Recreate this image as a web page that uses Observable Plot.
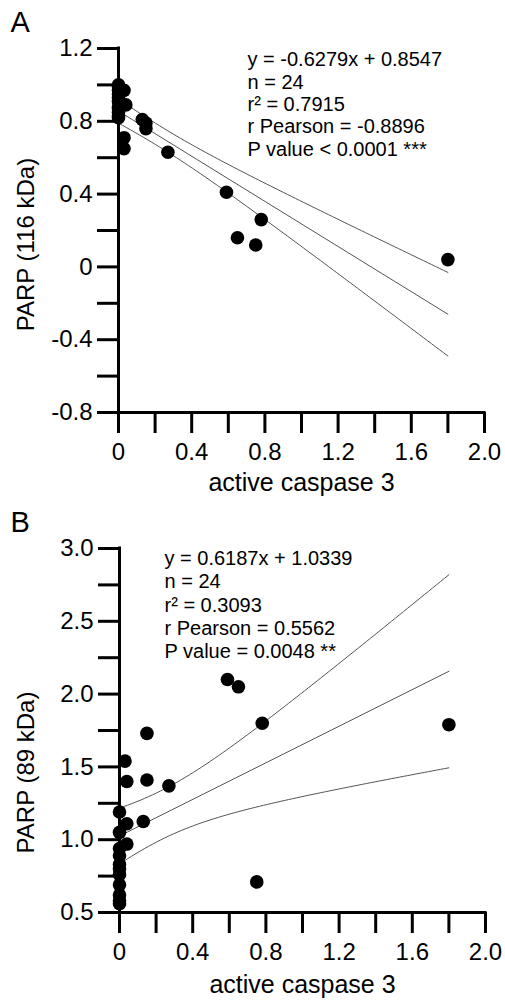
<!DOCTYPE html>
<html><head><meta charset="utf-8">
<script src="https://cdn.jsdelivr.net/npm/d3@7"></script>
<script src="https://cdn.jsdelivr.net/npm/@observablehq/plot@0.6"></script>
<style>body{margin:0;background:#fff} #chart svg{display:block}</style>
</head><body><div id="chart"></div>
<script>
// Panel A: PARP (116 kDa) vs active caspase 3
const caspaseA = [0,0,0,0,0,0,0,0,0,0,0, 0.03,0.04,0.03,0.03, 0.13,0.15,0.15, 0.27, 0.59,0.65,0.75,0.78,1.80];
const parp116  = [1.00,0.99,0.97,0.95,0.93,0.91,0.88,0.87,0.85,0.83,0.82, 0.97,0.89,0.71,0.65, 0.81,0.79,0.76, 0.63, 0.41,0.16,0.12,0.26,0.04];
// Panel B: PARP (89 kDa) vs active caspase 3
const caspaseB = [0,0,0,0,0,0,0,0,0,0,0, 0.03,0.04,0.04,0.04, 0.13,0.15,0.15, 0.27, 0.59,0.65,0.75,0.78,1.80];
const parp89   = [1.19,1.05,0.94,0.89,0.83,0.80,0.76,0.69,0.62,0.58,0.56, 1.54,1.40,1.11,0.97, 1.125,1.73,1.41, 1.37, 2.10,2.05,0.71,1.80,1.79];

const xDomain = [0, 2];
const xTicks = [0,0.2,0.4,0.6,0.8,1.0,1.2,1.4,1.6,1.8,2.0];
const xTickLabels = ["0","","0.4","","0.8","","1.2","","1.6","","2.0"];
const yDomainA = [-0.8, 1.2];
const yTicksA = [-0.8,-0.6,-0.4,-0.2,0,0.2,0.4,0.6,0.8,1.0,1.2];
const yTickLabelsA = ["-0.8","","-0.4","","0","","0.4","","0.8","","1.2"];
const yDomainB = [0.5, 3.0];
const yTicksB = [0.5,0.75,1.0,1.25,1.5,1.75,2.0,2.25,2.5,2.75,3.0];
const yTickLabelsB = ["0.5","","1.0","","1.5","","2.0","","2.5","","3.0"];

const statsA = ["y = -0.6279x + 0.8547","n = 24","r\u00B2 = 0.7915","r Pearson = -0.8896","P value < 0.0001 ***"];
const statsB = ["y = 0.6187x + 1.0339","n = 24","r\u00B2 = 0.3093","r Pearson = 0.5562","P value = 0.0048 **"];
const xTitle = "active caspase 3";
const yTitleA = "PARP (116 kDa)";
const yTitleB = "PARP (89 kDa)";

const T_CRIT = 2.073873; // t(0.975, df = 22)

function ciBands(xs, ys) {
  const n = xs.length, mx = d3.mean(xs), my = d3.mean(ys);
  let sxx = 0, sxy = 0;
  for (let i = 0; i < n; i++) { sxx += (xs[i]-mx)**2; sxy += (xs[i]-mx)*(ys[i]-my); }
  const b = sxy / sxx, a = my - b * mx;
  let sse = 0;
  for (let i = 0; i < n; i++) sse += (ys[i] - (a + b*xs[i]))**2;
  const s = Math.sqrt(sse / (n - 2));
  const [x0, x1] = d3.extent(xs);
  return d3.range(0, 81).map(i => {
    const x = x0 + (x1 - x0) * i / 80;
    const yh = a + b * x;
    const h = T_CRIT * s * Math.sqrt(1/n + (x - mx)**2 / sxx);
    return {x, lo: yh - h, hi: yh + h};
  });
}

const font = "'Liberation Sans', Arial, Helvetica, sans-serif";
const fmt = (ticks, labels) => d => { const i = ticks.findIndex(t => Math.abs(t - d) < 1e-9); return i < 0 ? "" : labels[i]; };

function panel({xs, ys, yDomain, yTicks, yTickLabels, stats, letter, yTitle, height, marginLeft, marginRight, marginBottom, statsDx, statsDy, statsLH, yTitleDy, xTitleDy}) {
  const data = xs.map((x, i) => ({x, y: ys[i]}));
  const band = ciBands(xs, ys);
  return Plot.plot({
    width: 505, height, marginLeft, marginRight, marginTop: 48, marginBottom,
    inset: 0,
    x: {domain: xDomain, axis: null},
    y: {domain: yDomain, axis: null},
    style: {fontFamily: font, fontSize: "24px", color: "black", background: "white"},
    marks: [
      Plot.line(band, {x: "x", y: "hi", stroke: "#555", strokeWidth: 1}),
      Plot.line(band, {x: "x", y: "lo", stroke: "#555", strokeWidth: 1}),
      Plot.linearRegressionY(data, {x: "x", y: "y", ci: 0, stroke: "#555", strokeWidth: 1}),
      Plot.axisX(xTicks, {anchor: "bottom", tickSize: 21, tickPadding: 9, strokeWidth: 3, tickFormat: fmt(xTicks, xTickLabels), label: null, fontSize: 24}),
      Plot.axisY(yTicks, {anchor: "left", tickSize: 21, tickPadding: 5, strokeWidth: 3, tickFormat: fmt(yTicks, yTickLabels), label: null, fontSize: 24}),
      Plot.ruleX([xDomain[0]], {y1: yDomain[0], y2: yDomain[1], strokeWidth: 3, strokeLinecap: "square"}),
      Plot.ruleY([yDomain[0]], {x1: xDomain[0], x2: xDomain[1], strokeWidth: 3, strokeLinecap: "square"}),
      Plot.dot(data, {x: "x", y: "y", r: 6.8, fill: "black"}),
      Plot.text([stats.join("\n")], {frameAnchor: "top-left", dx: statsDx, dy: statsDy, textAnchor: "start", lineAnchor: "top", fontSize: 20, lineHeight: statsLH}),
      Plot.text([letter], {frameAnchor: "top-left", dx: 10 - marginLeft, dy: -37, textAnchor: "start", lineAnchor: "top", fontSize: 29}),
      Plot.text([yTitle], {frameAnchor: "left", dx: 26 - marginLeft, dy: yTitleDy, rotate: -90, textAnchor: "middle", lineAnchor: "middle", fontSize: 24}),
      Plot.text([xTitle], {frameAnchor: "bottom", dy: xTitleDy, lineAnchor: "top", fontSize: 25})
    ]
  });
}

const chart = document.getElementById("chart");
chart.append(panel({xs: caspaseA, ys: parp116, yDomain: yDomainA, yTicks: yTicksA, yTickLabels: yTickLabelsA, stats: statsA, letter: "A", yTitle: yTitleA,
  height: 500, marginLeft: 118, marginRight: 21, marginBottom: 88, statsDx: 129, statsDy: 2, statsLH: 1.115, yTitleDy: 14, xTitleDy: 61}));
chart.append(panel({xs: caspaseB, ys: parp89, yDomain: yDomainB, yTicks: yTicksB, yTickLabels: yTickLabelsB, stats: statsB, letter: "B", yTitle: yTitleB,
  height: 502, marginLeft: 119, marginRight: 20, marginBottom: 90, statsDx: 45, statsDy: 0, statsLH: 1.165, yTitleDy: 42, xTitleDy: 63}));
</script>
</body></html>
